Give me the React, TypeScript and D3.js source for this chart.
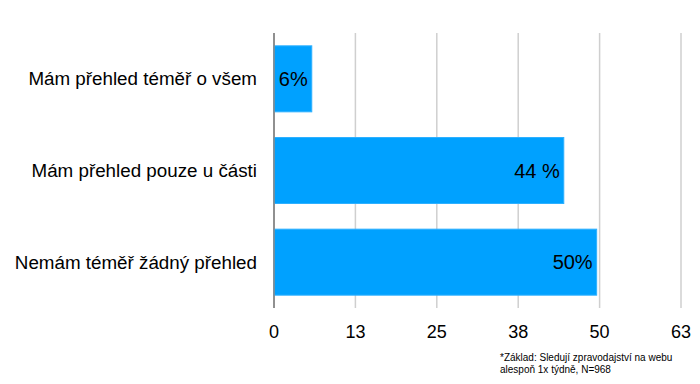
import React from "react";
import * as d3 from "d3";

const categories = ["Mám přehled téměř o všem", "Mám přehled pouze u části", "Nemám téměř žádný přehled"];
const values = [5.8, 44.5, 49.55];
const valueLabels = ["6%", "44 %", "50%"];
const tickValues = [0, 12.5, 25, 37.5, 50, 62.5];
const tickLabels = ["0", "13", "25", "38", "50", "63"];
const footnote = ["*Základ: Sledují zpravodajství na webu", "alespoň 1x týdně, N=968"];

const W = 700, H = 384;
const margin = { left: 274, right: 19, top: 33, bottom: 76 };
const font = "'Liberation Sans', Arial, sans-serif";

export default function App() {
  const x = d3.scaleLinear().domain([0, 62.5]).range([margin.left, W - margin.right]);
  const y = d3.scaleBand<string>().domain(categories).range([margin.top, H - margin.bottom]).paddingInner(0.28).paddingOuter(0.14);
  const plotBottom = H - margin.bottom;
  return (
    <svg width={W} height={H} style={{ position: "absolute", left: 0, top: 0, background: "#fff" }} fontFamily={font}>
      {tickValues.map((t, i) => (
        <line key={"g" + i} x1={x(t)} x2={x(t)} y1={margin.top} y2={plotBottom} stroke={i === 0 ? "#888" : "#cfcfcf"} strokeWidth={1.5} />
      ))}
      {categories.map((c, i) => (
        <g key={c}>
          <rect x={x(0)} y={y(c)!} width={x(values[i]) - x(0)} height={y.bandwidth()} fill="#00a1ff" stroke="#2eb0ff" strokeWidth={1} />
          <text x={x(values[i]) - 4} y={y(c)! + y.bandwidth() / 2} textAnchor="end" dominantBaseline="central" fontSize={20} fill="#000">{valueLabels[i]}</text>
          <text x={257} y={y(c)! + y.bandwidth() / 2} textAnchor="end" dominantBaseline="central" fontSize={18.8} fill="#000">{c}</text>
        </g>
      ))}
      <line x1={x(0)} x2={x(0)} y1={margin.top} y2={plotBottom} stroke="#888" strokeWidth={1.5} />
      {tickValues.map((t, i) => (
        <text key={"t" + i} x={x(t)} y={332} textAnchor="middle" dominantBaseline="central" fontSize={18} fill="#000">{tickLabels[i]}</text>
      ))}
      {footnote.map((f, i) => (
        <text key={"f" + i} x={500} y={357 + i * 12} dominantBaseline="central" fontSize={10} fill="#000">{f}</text>
      ))}
    </svg>
  );
}
